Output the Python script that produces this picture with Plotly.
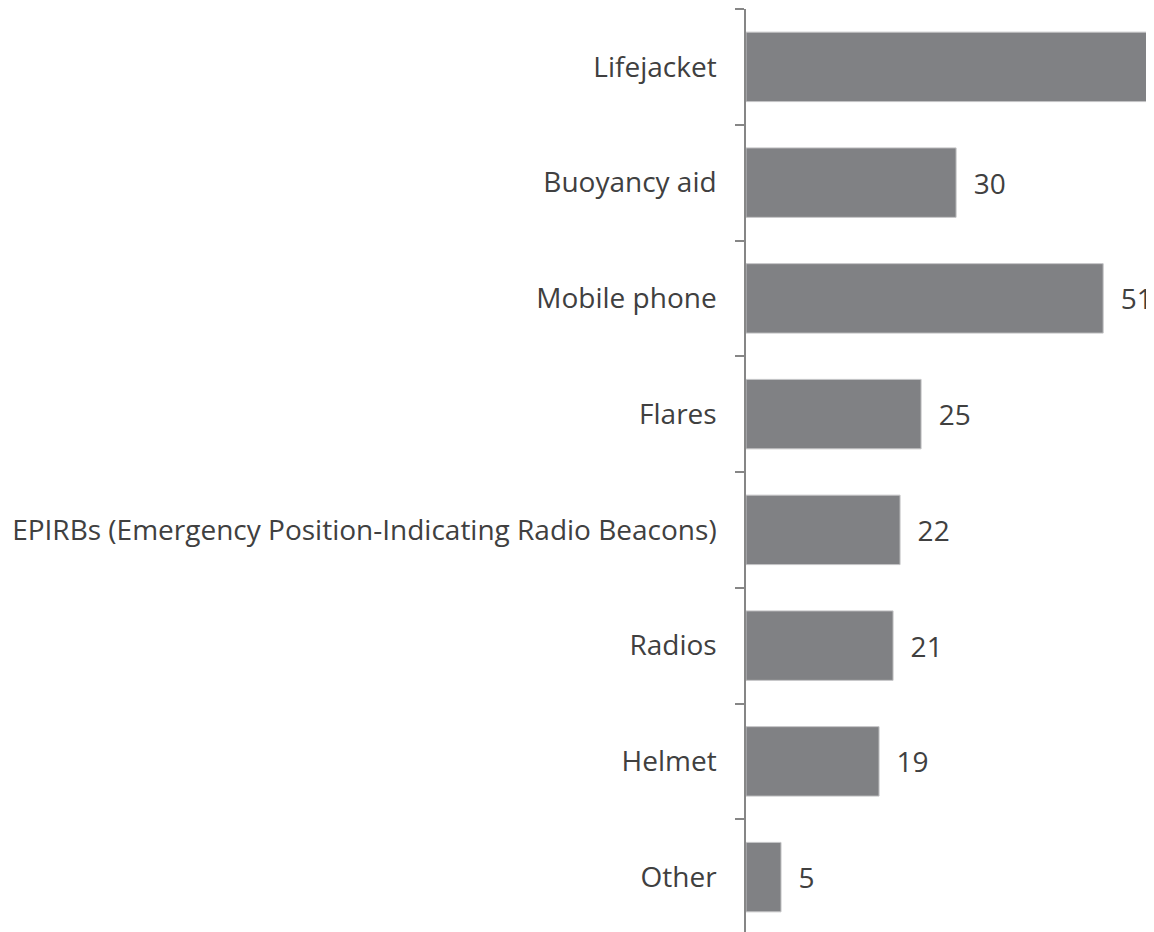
import plotly.graph_objects as go

categories = ["Lifejacket", "Buoyancy aid", "Mobile phone", "Flares",
              "EPIRBs (Emergency Position-Indicating Radio Beacons)",
              "Radios", "Helmet", "Other"]
values = [62, 30, 51, 25, 22, 21, 19, 5]

x_max = 59.4

fig = go.Figure(go.Bar(
    x=values, y=categories, orientation="h",
    marker=dict(color="#808184", line=dict(color="#c4c4c6", width=1)),
    text=values, texttemplate="\u00a0\u00a0%{text}",
    textposition="outside", cliponaxis=False,
    textfont=dict(family="Open Sans", size=28, color="#404040"),
))

fig.update_layout(
    width=1154, height=932,
    margin=dict(l=738, r=0, t=1, b=5),
    paper_bgcolor="white", plot_bgcolor="white",
    bargap=0.4, showlegend=False,
    font=dict(family="Open Sans", size=28, color="#404040"),
    xaxis=dict(range=[0, x_max], visible=False, fixedrange=True),
    yaxis=dict(autorange="reversed", showline=True, linecolor="#868686", linewidth=1.5,
               ticks="outside", ticklen=9, tickcolor="#868686", tickwidth=1.5,
               tickson="boundaries", showgrid=False, ticklabelstandoff=22,
               automargin=False,
               tickfont=dict(family="Open Sans", size=28, color="#404040")),
)

fig.write_html("out.html")
